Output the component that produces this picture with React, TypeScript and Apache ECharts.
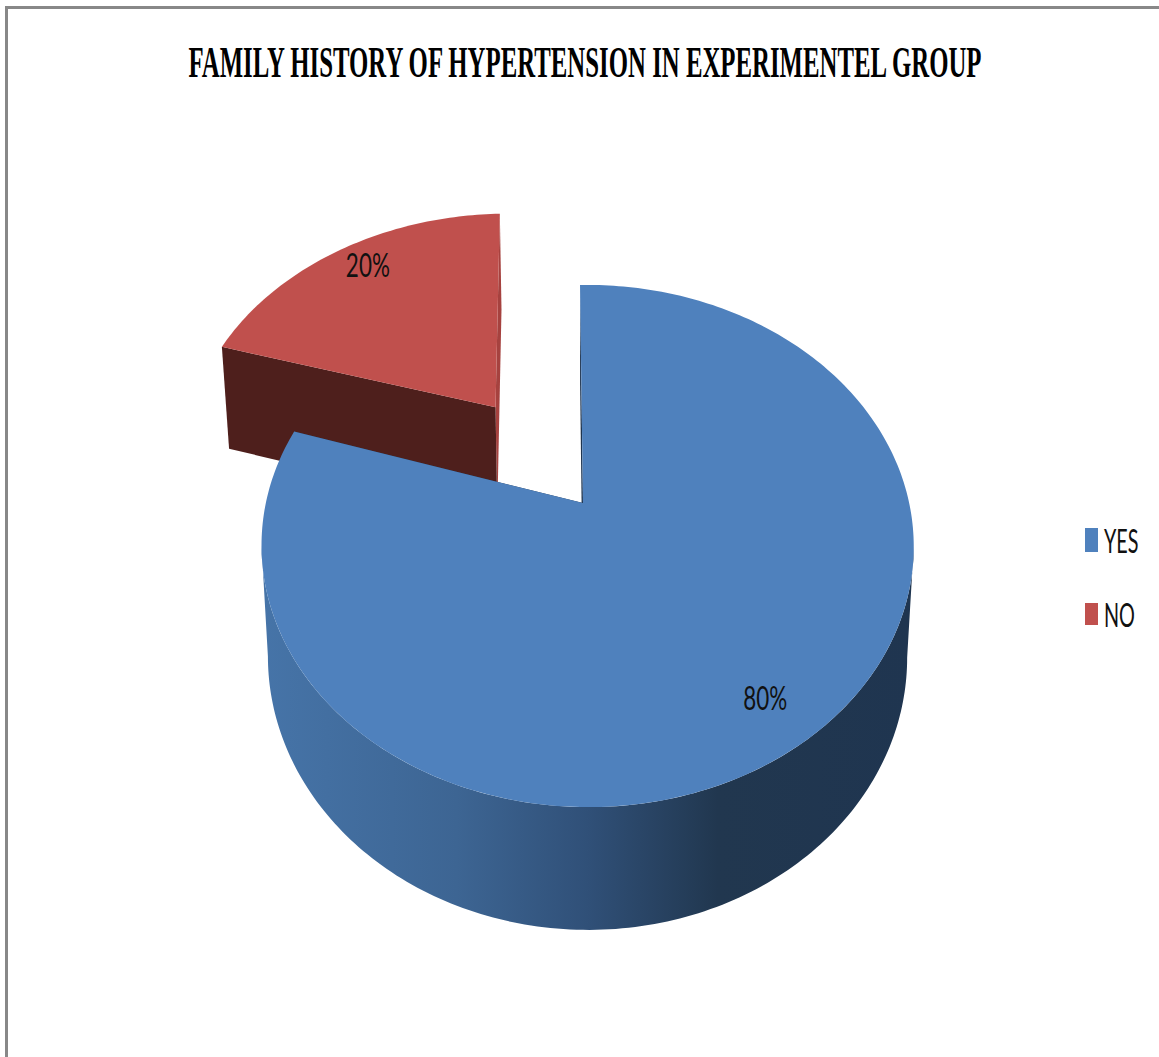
import React, { useEffect, useRef } from "react";
import * as echarts from "echarts";

const chartTitle = "FAMILY HISTORY OF HYPERTENSION IN EXPERIMENTEL GROUP";
const sliceNames = ["YES", "NO"];
const sliceValues = [80, 20];
const sliceColors = ["#4F81BD", "#C0504D"];

// Disc-plane offset of each slice (u to the right, v towards the viewer), in radii.
const sliceOffset = [[0, 0], [-0.29, -0.402]];
// Per-slice view adjustments: sideways lean of the projection and rotation in degrees.
const sliceTilt = [0.014, 0];
const sliceTwist = [0, -1];
const labelShift = [[2, 3], [3, -10]];
const sideColors = [
  { start: "#1F3550", end: "#1F3550" },
  { start: "#4E1F1C", end: "#A6423F" },
];
const rimStops = [
  { offset: 0, color: "#4674A8" },
  { offset: 0.3, color: "#3D6593" },
  { offset: 0.5, color: "#305078" },
  { offset: 0.7, color: "#21374F" },
  { offset: 1, color: "#1F3550" },
];

const START_ANGLE = -0.62;
const CX = 583;
const PERSPECTIVE = 0.1647;
const TOP = { y0: 503, rx: 321.6, ry: 254 };
const BOTTOM = { y0: 612, rx: 315.2, ry: 265.5 };
const LABEL_RADIUS = 0.83;

type Plane = { y0: number; rx: number; ry: number };

const rad = (deg: number) => (deg * Math.PI) / 180;

function sliceRenderer(index: number) {
  const total = sliceValues.reduce((a, b) => a + b, 0);
  const before = sliceValues.slice(0, index).reduce((a, b) => a + b, 0);
  const tilt = sliceTilt[index];
  const [ox, oy] = sliceOffset[index];

  // Projects a point of the disc plane to the page.
  const project = (plane: Plane, u: number, v: number) => {
    const s = 1 / (1 - PERSPECTIVE * v - tilt * u);
    return [CX + plane.rx * u * s, plane.y0 + plane.ry * v * s];
  };
  const rimPoint = (plane: Plane, deg: number, r = 1) =>
    project(plane, ox + r * Math.sin(rad(deg)), oy - r * Math.cos(rad(deg)));
  const arcPoints = (plane: Plane, from: number, to: number) => {
    const pts: number[][] = [];
    const n = Math.max(2, Math.ceil(Math.abs(to - from)));
    for (let i = 0; i <= n; i++) pts.push(rimPoint(plane, from + ((to - from) * i) / n));
    return pts;
  };

  return (_params: unknown, api: any) => {
    const value = api.value(0);
    const from = START_ANGLE + sliceTwist[index] + (before / total) * 360;
    const to = from + (value / total) * 360;
    const mid = (from + to) / 2;
    const topApex = project(TOP, ox, oy);
    const bottomApex = project(BOTTOM, ox, oy);
    const children: any[] = [];

    const side = (deg: number, color: string) => ({
      type: "polygon",
      shape: { points: [topApex, rimPoint(TOP, deg), rimPoint(BOTTOM, deg), bottomApex] },
      style: { fill: color },
      silent: true,
    });
    children.push(side(to, sideColors[index].end));
    children.push(side(from, sideColors[index].start));

    // Curved outer wall, limited to the part between the two silhouette tangents.
    const tangent = (Math.acos(-PERSPECTIVE) * 180) / Math.PI;
    const wallFrom = Math.max(from, tangent);
    const wallTo = Math.min(to, 360 - tangent);
    if (wallTo > wallFrom) {
      children.push({
        type: "polygon",
        shape: {
          points: [...arcPoints(TOP, wallFrom, wallTo), ...arcPoints(BOTTOM, wallTo, wallFrom)],
        },
        style: {
          fill: { type: "linear", x: 0, y: 0, x2: 1, y2: 0, colorStops: rimStops },
        },
        silent: true,
      });
    }

    children.push({
      type: "polygon",
      shape: { points: [topApex, ...arcPoints(TOP, from, to)] },
      style: { fill: sliceColors[index] },
      silent: true,
    });

    const at = rimPoint(TOP, mid, LABEL_RADIUS);
    children.push({
      type: "text",
      x: at[0] + labelShift[index][0],
      y: at[1] + labelShift[index][1],
      scaleX: 0.68,
      silent: true,
      style: {
        text: `${Math.round((value / total) * 100)}%`,
        fontFamily: "Lato",
        fontSize: 33,
        fill: "#111111",
        textAlign: "center",
        textVerticalAlign: "middle",
      },
    });
    return { type: "group", children };
  };
}

const legendRows = [
  { top: 528, height: 24, textY: 540 },
  { top: 603, height: 22, textY: 614 },
];

export default function App() {
  const ref = useRef<HTMLDivElement>(null);

  useEffect(() => {
    const chart = echarts.init(ref.current!, undefined, { renderer: "svg" });
    // The exploded slice goes first so the main body paints over it.
    const order = sliceNames.map((_, i) => i).reverse();
    chart.setOption({
      animation: false,
      backgroundColor: "#ffffff",
      series: order.map((i) => ({
        type: "custom",
        name: sliceNames[i],
        coordinateSystem: "none",
        data: [[sliceValues[i]]],
        renderItem: sliceRenderer(i),
        silent: true,
      })),
      graphic: [
        { type: "rect", shape: { x: 5, y: 6, width: 1154, height: 3 }, style: { fill: "#888888" }, silent: true },
        { type: "rect", shape: { x: 5, y: 6, width: 3, height: 1051 }, style: { fill: "#888888" }, silent: true },
        {
          type: "text",
          x: 585,
          y: 62,
          scaleX: 0.564,
          silent: true,
          style: {
            text: chartTitle,
            fontFamily: "Liberation Serif",
            fontWeight: "bold",
            fontSize: 44,
            fill: "#000000",
            textAlign: "center",
            textVerticalAlign: "middle",
          },
        },
        ...sliceNames.flatMap((name, i) => [
          {
            type: "rect",
            shape: { x: 1085, y: legendRows[i].top, width: 13, height: legendRows[i].height },
            style: { fill: sliceColors[i] },
            silent: true,
          },
          {
            type: "text",
            x: 1104,
            y: legendRows[i].textY,
            scaleX: 0.6,
            silent: true,
            style: {
              text: name,
              fontFamily: "Lato",
              fontSize: 33,
              fill: "#111111",
              textAlign: "left",
              textVerticalAlign: "middle",
            },
          },
        ]),
      ],
    });
    return () => chart.dispose();
  }, []);

  return <div ref={ref} style={{ position: "absolute", left: 0, top: 0, width: 1159, height: 1057 }} />;
}
